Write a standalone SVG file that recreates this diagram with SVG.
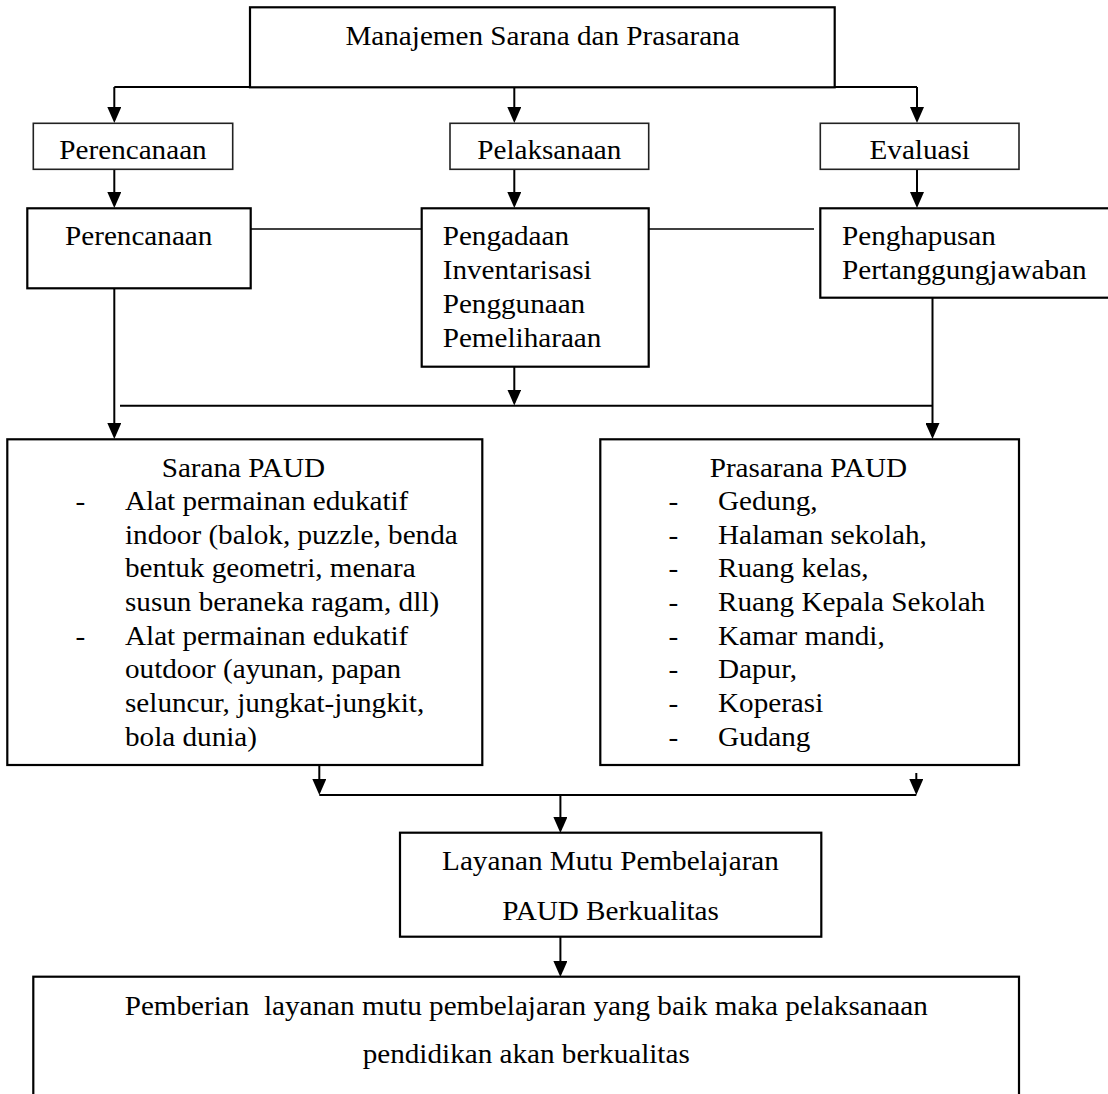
<svg xmlns="http://www.w3.org/2000/svg" width="1108" height="1094" viewBox="0 0 1108 1094">
  <style>
    .t { font-family: "Liberation Serif", "Times New Roman", serif; font-size: 27px; fill: #000; }
    .c { text-anchor: middle; }
    .box { fill: #fff; stroke: #000; stroke-width: 2.2; }
    .thin { fill: #fff; stroke: #222; stroke-width: 1.6; }
    .ln { fill: none; stroke: #000; stroke-width: 2; }
    .ln2 { fill: none; stroke: #000; stroke-width: 1.7; }
    .arr { fill: none; stroke: #000; stroke-width: 2; marker-end: url(#ah); }
  </style>
  <defs>
    <marker id="ah" viewBox="0 0 16 14" refX="13" refY="7" markerWidth="16" markerHeight="14" markerUnits="userSpaceOnUse" orient="auto">
      <path d="M0,0 L16,7 L0,14 z" fill="#000"/>
    </marker>
  </defs>
  <rect width="1108" height="1094" fill="#fff"/>

  <g id="connectors">
    <path class="ln" d="M114.3,87 H917"/>
    <path class="arr" d="M114.3,87 V120"/>
    <path class="arr" d="M514.3,87 V120"/>
    <path class="arr" d="M917,87 V120"/>
    <path class="arr" d="M114.3,169 V205"/>
    <path class="arr" d="M514.3,169 V205"/>
    <path class="arr" d="M917,169 V205"/>
    <path class="ln2" d="M251,229 H421.7"/>
    <path class="ln2" d="M648.7,229 H814"/>
    <path class="arr" d="M114.3,288 V436"/>
    <path class="arr" d="M514.3,366.7 V402.5"/>
    <path class="arr" d="M932.5,297.7 V436"/>
    <path class="ln" d="M120,405.7 H932.5"/>
    <path class="arr" d="M319.3,765 V792"/>
    <path class="arr" d="M916.3,773 V792"/>
    <path class="ln" d="M319.3,795 H916.3"/>
    <path class="arr" d="M560.4,795 V830"/>
    <path class="arr" d="M560.4,936.7 V974"/>
  </g>

  <g id="n-manajemen">
    <rect class="box" x="250" y="7.3" width="584.7" height="80"/>
    <text class="t c" transform="matrix(1.08 0 0 1 542.5 45)">Manajemen Sarana dan Prasarana</text>
  </g>

  <g id="n-perencanaan-1">
    <rect class="thin" x="33.3" y="123.3" width="199.4" height="46"/>
    <text class="t c" transform="matrix(1.08 0 0 1 133 159.3)">Perencanaan</text>
  </g>
  <g id="n-pelaksanaan">
    <rect class="thin" x="450" y="123.3" width="198.7" height="46"/>
    <text class="t c" transform="matrix(1.08 0 0 1 549.3 159.3)">Pelaksanaan</text>
  </g>
  <g id="n-evaluasi">
    <rect class="thin" x="820.3" y="123.3" width="198.7" height="46"/>
    <text class="t c" transform="matrix(1.08 0 0 1 919.7 159.3)">Evaluasi</text>
  </g>

  <g id="n-perencanaan-2">
    <rect class="box" x="27.3" y="208.3" width="223.4" height="80"/>
    <text class="t c" transform="matrix(1.08 0 0 1 138.7 245)">Perencanaan</text>
  </g>
  <g id="n-pengadaan">
    <rect class="box" x="421.7" y="208.3" width="227" height="158.4"/>
    <text class="t" transform="matrix(1.08 0 0 1 442.7 245)"><tspan x="0" y="0">Pengadaan</tspan><tspan x="0" y="34">Inventarisasi</tspan><tspan x="0" y="68">Penggunaan</tspan><tspan x="0" y="102">Pemeliharaan</tspan></text>
  </g>
  <g id="n-penghapusan">
    <rect class="box" x="820.3" y="208.3" width="300" height="89.4"/>
    <text class="t" transform="matrix(1.08 0 0 1 842 245)"><tspan x="0" y="0">Penghapusan</tspan><tspan x="0" y="34">Pertanggungjawaban</tspan></text>
  </g>

  <g id="n-sarana">
    <rect class="box" x="7.3" y="439.3" width="475" height="325.7"/>
    <text class="t" transform="matrix(1.08 0 0 1 161.7 476.7)">Sarana PAUD</text>
    <text class="t" transform="matrix(1.08 0 0 1 75.5 510)"><tspan x="0" y="0">-</tspan><tspan x="0" y="134.8">-</tspan></text>
    <text class="t" transform="matrix(1.08 0 0 1 125 510)"><tspan x="0" y="0">Alat permainan edukatif</tspan><tspan x="0" y="33.7">indoor (balok, puzzle, benda</tspan><tspan x="0" y="67.4">bentuk geometri, menara</tspan><tspan x="0" y="101.1">susun beraneka ragam, dll)</tspan><tspan x="0" y="134.8">Alat permainan edukatif</tspan><tspan x="0" y="168.5">outdoor (ayunan, papan</tspan><tspan x="0" y="202.2">seluncur, jungkat-jungkit,</tspan><tspan x="0" y="235.9">bola dunia)</tspan></text>
  </g>

  <g id="n-prasarana">
    <rect class="box" x="600.3" y="439.3" width="418.7" height="325.7"/>
    <text class="t" transform="matrix(1.08 0 0 1 709.7 476.7)">Prasarana PAUD</text>
    <text class="t" transform="matrix(1.08 0 0 1 668.5 510)"><tspan x="0" y="0">-</tspan><tspan x="0" y="33.7">-</tspan><tspan x="0" y="67.4">-</tspan><tspan x="0" y="101.1">-</tspan><tspan x="0" y="134.8">-</tspan><tspan x="0" y="168.5">-</tspan><tspan x="0" y="202.2">-</tspan><tspan x="0" y="235.9">-</tspan></text>
    <text class="t" transform="matrix(1.08 0 0 1 718 510)"><tspan x="0" y="0">Gedung,</tspan><tspan x="0" y="33.7">Halaman sekolah,</tspan><tspan x="0" y="67.4">Ruang kelas,</tspan><tspan x="0" y="101.1">Ruang Kepala Sekolah</tspan><tspan x="0" y="134.8">Kamar mandi,</tspan><tspan x="0" y="168.5">Dapur,</tspan><tspan x="0" y="202.2">Koperasi</tspan><tspan x="0" y="235.9">Gudang</tspan></text>
  </g>

  <g id="n-layanan">
    <rect class="box" x="400" y="832.7" width="421.3" height="104"/>
    <text class="t c" transform="matrix(1.08 0 0 1 610.5 870)"><tspan x="0" y="0">Layanan Mutu Pembelajaran</tspan><tspan x="0" y="50">PAUD Berkualitas</tspan></text>
  </g>

  <g id="n-pemberian">
    <rect class="box" x="33.3" y="976.7" width="985.7" height="140"/>
    <text class="t c" xml:space="preserve" transform="matrix(1.08 0 0 1 526.2 1015)"><tspan x="0" y="0">Pemberian  layanan mutu pembelajaran yang baik maka pelaksanaan</tspan><tspan x="0" y="48.3">pendidikan akan berkualitas</tspan></text>
  </g>
</svg>
